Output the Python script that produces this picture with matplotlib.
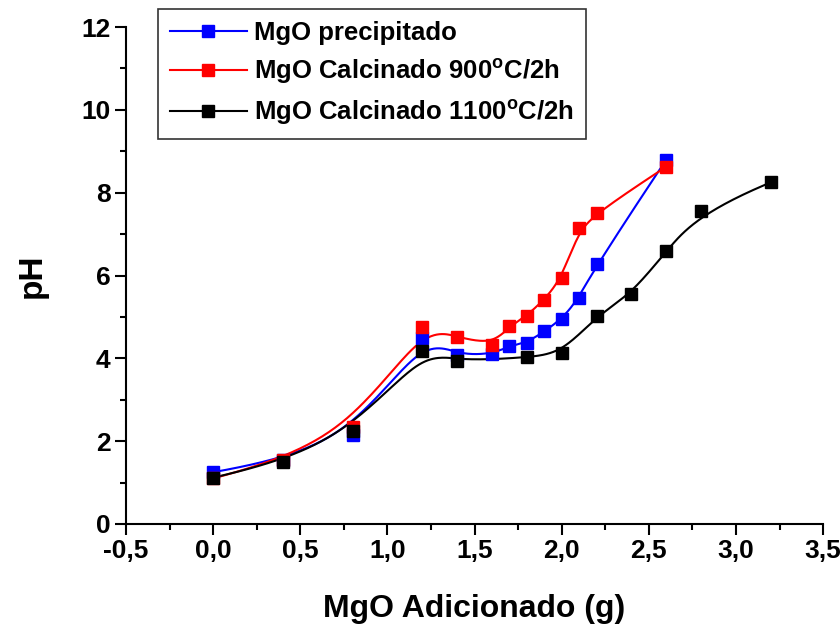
import numpy as np
import matplotlib
matplotlib.use("Agg")
import matplotlib.pyplot as plt
from matplotlib.ticker import MultipleLocator, FuncFormatter

plt.rcParams['font.family'] = ['Liberation Sans', 'DejaVu Sans']
plt.rcParams['font.weight'] = 'bold'
plt.rcParams['mathtext.fontset'] = 'custom'
plt.rcParams['mathtext.rm'] = 'Liberation Sans:bold'
plt.rcParams['mathtext.bf'] = 'Liberation Sans:bold'

# data
x_prec = [0.0, 0.4, 0.8, 1.2, 1.4, 1.6, 1.7, 1.8, 1.9, 2.0, 2.1, 2.2, 2.6]
ph_prec = [1.25, 1.55, 2.15, 4.5, 4.08, 4.1, 4.3, 4.38, 4.65, 4.95, 5.45, 6.27, 8.8]

x_900 = [0.0, 0.4, 0.8, 1.2, 1.4, 1.6, 1.7, 1.8, 1.9, 2.0, 2.1, 2.2, 2.6]
ph_900 = [1.1, 1.55, 2.35, 4.75, 4.52, 4.33, 4.77, 5.03, 5.42, 5.93, 7.15, 7.52, 8.63]

x_1100 = [0.0, 0.4, 0.8, 1.2, 1.4, 1.8, 2.0, 2.2, 2.4, 2.6, 2.8, 3.2]
ph_1100 = [1.12, 1.5, 2.25, 4.17, 3.93, 4.02, 4.12, 5.03, 5.55, 6.6, 7.55, 8.25]

labels = ['MgO precipitado',
          r'MgO Calcinado 900$^\mathrm{o}$C/2h',
          r'MgO Calcinado 1100$^\mathrm{o}$C/2h']
colors = ['#0000ff', '#ff0000', '#000000']


def bspline(xs, ys, n=300):
    # clamped cubic b-spline using the points as control points
    P = np.column_stack([xs, ys])
    m = len(P)
    k = 3
    knots = np.concatenate([np.zeros(k), np.arange(m - k + 1), np.full(k, m - k)])
    t = np.linspace(0, m - k, n)
    t[-1] -= 1e-9
    N = np.zeros((n, len(knots) - 1))
    for i in range(len(knots) - 1):
        N[:, i] = (knots[i] <= t) & (t < knots[i + 1])
    for d in range(1, k + 1):
        Nn = np.zeros((n, len(knots) - 1 - d))
        for i in range(len(knots) - 1 - d):
            a = knots[i + d] - knots[i]
            b = knots[i + d + 1] - knots[i + 1]
            left = (t - knots[i]) / a * N[:, i] if a > 0 else 0
            right = (knots[i + d + 1] - t) / b * N[:, i + 1] if b > 0 else 0
            Nn[:, i] = left + right
        N = Nn
    C = N @ P
    return C[:, 0], C[:, 1]


fig = plt.figure(figsize=(8.4, 6.29), dpi=100)
ax = fig.add_axes([0.15, 0.167, 0.83, 0.79])

series = [(x_prec, ph_prec), (x_900, ph_900), (x_1100, ph_1100)]
for (xs, ys), lab, c in zip(series, labels, colors):
    cx, cy = bspline(xs, ys)
    ax.plot(cx, cy, color=c, lw=1.5, zorder=2)
    ax.plot(xs, ys, 's', color=c, ms=8, zorder=3)
    ax.plot([], [], '-s', color=c, lw=1.5, ms=8, label=lab)

ax.set_xlim(-0.5, 3.5)
ax.set_ylim(0, 12)
ax.xaxis.set_major_locator(MultipleLocator(0.5))
ax.xaxis.set_minor_locator(MultipleLocator(0.25))
ax.yaxis.set_major_locator(MultipleLocator(2))
ax.yaxis.set_minor_locator(MultipleLocator(1))
ax.xaxis.set_major_formatter(FuncFormatter(lambda v, p: ('%.1f' % v).replace('.', ',')))
ax.yaxis.set_major_formatter(FuncFormatter(lambda v, p: '%d' % v))

for s in ['top', 'right']:
    ax.spines[s].set_visible(False)
for s in ['left', 'bottom']:
    ax.spines[s].set_linewidth(1.5)
ax.tick_params(which='major', direction='out', length=8, width=1.5, labelsize=19, pad=3)
ax.tick_params(which='minor', direction='out', length=4, width=1.5)

ax.set_xlabel('MgO Adicionado (g)', fontsize=23, fontweight='bold', labelpad=22)
ax.set_ylabel('pH', fontsize=24, fontweight='bold', labelpad=24)

leg = ax.legend(loc='upper left', bbox_to_anchor=(0.046, 1.036), fontsize=18.5,
                frameon=True, fancybox=False, edgecolor='black',
                handlelength=3.0, handletextpad=0.3, borderpad=0.45,
                labelspacing=0.45, borderaxespad=0)
leg.get_frame().set_linewidth(1.2)

fig.savefig('out.png', dpi=100)
